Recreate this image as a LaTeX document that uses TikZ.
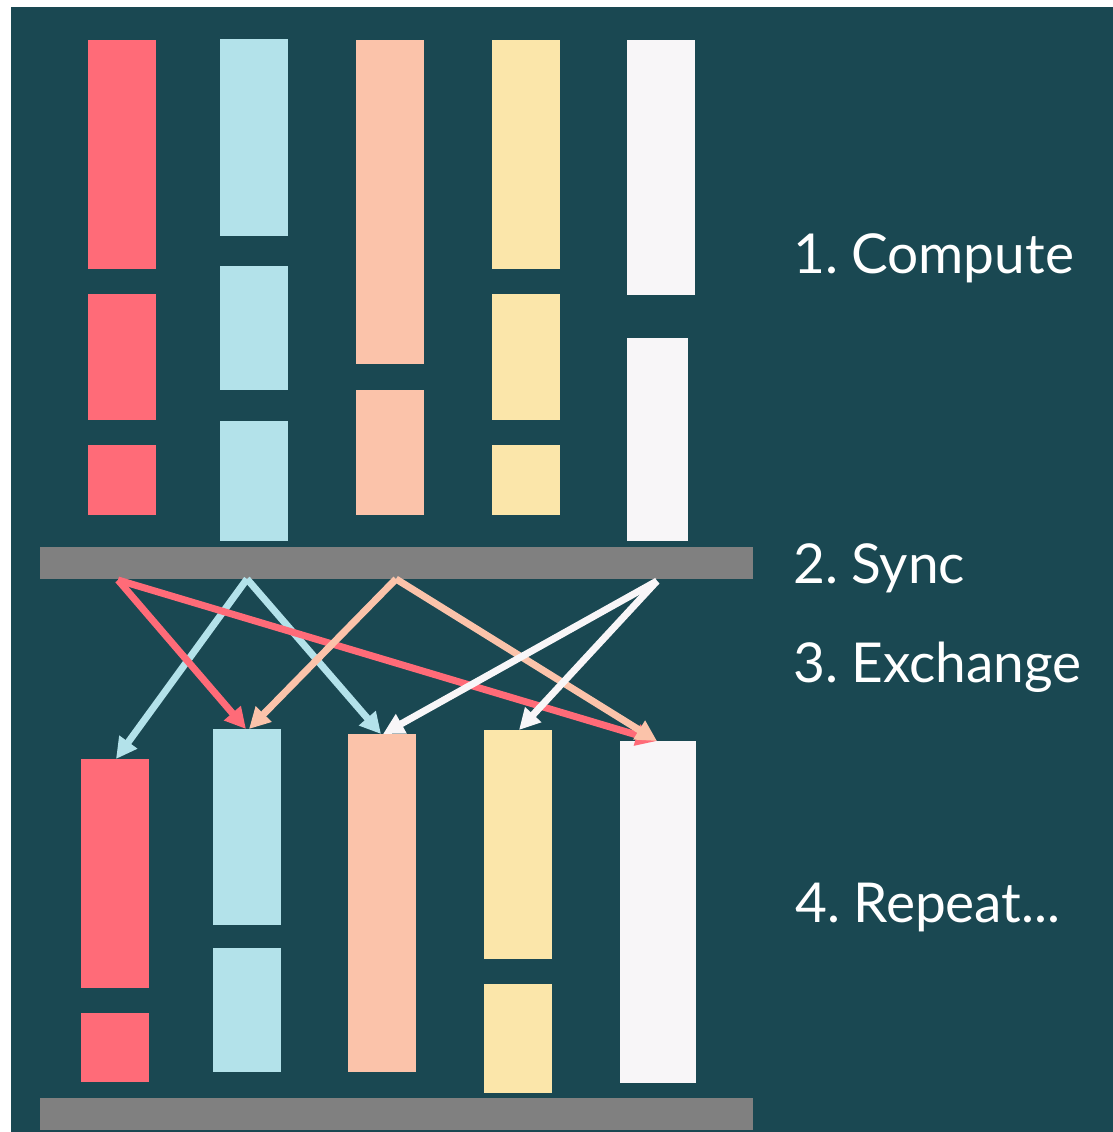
\documentclass[tikz,border=0pt]{standalone}
\usepackage{fontspec}
\setmainfont{Lato}
\usetikzlibrary{fit,arrows.meta}
\definecolor{teal}{HTML}{1A4852}
\definecolor{cred}{HTML}{FF6B78}
\definecolor{cblue}{HTML}{B3E2EA}
\definecolor{cpeach}{HTML}{FBC3AA}
\definecolor{cyellow}{HTML}{FBE6AA}
\definecolor{cwhite}{HTML}{F8F6F8}
\definecolor{cgray}{HTML}{808080}
\newcommand{\stepno}[1]{#1.\hspace{0.24em}}
\tikzset{
  bar/.style={draw=none, inner sep=0pt, outer sep=0pt, fill=#1},
  xfer/.style={draw=#1, line width=7pt, -{Triangle[length=21pt,width=21pt,fill=#1]}},
  stage/.style={text=white, anchor=base west, inner sep=0pt, font=\fontsize{55}{60}\selectfont}
}
\begin{document}
\begin{tikzpicture}[x=1pt,y=-1pt]
  % canvas
  \useasboundingbox (0,0) rectangle (1113,1132);
  \fill[white] (0,0) rectangle (1113,1132);
  \fill[teal] (11,7) rectangle (1113,1132);

  % compute phase: work blocks per worker
  \node[bar=cred,    fit={(88,40)(156,269)}]   (t1a) {};
  \node[bar=cred,    fit={(88,294)(156,420)}]  (t1b) {};
  \node[bar=cred,    fit={(88,445)(156,515)}]  (t1c) {};
  \node[bar=cblue,   fit={(220,39)(288,236)}]  (t2a) {};
  \node[bar=cblue,   fit={(220,266)(288,390)}] (t2b) {};
  \node[bar=cblue,   fit={(220,421)(288,541)}] (t2c) {};
  \node[bar=cpeach,  fit={(356,40)(424,364)}]  (t3a) {};
  \node[bar=cpeach,  fit={(356,390)(424,515)}] (t3b) {};
  \node[bar=cyellow, fit={(492,40)(560,269)}]  (t4a) {};
  \node[bar=cyellow, fit={(492,294)(560,420)}] (t4b) {};
  \node[bar=cyellow, fit={(492,445)(560,515)}] (t4c) {};
  \node[bar=cwhite,  fit={(627,40)(695,295)}]  (t5a) {};
  \node[bar=cwhite,  fit={(627,338)(688,541)}] (t5b) {};

  % synchronisation barriers
  \node[bar=cgray, fit={(40,547)(753,579)}]   (sync) {};
  \node[bar=cgray, fit={(40,1098)(753,1130)}] (sync2) {};

  % next superstep
  \node[bar=cred,    fit={(81,759)(149,988)}]   (b1a) {};
  \node[bar=cred,    fit={(81,1013)(149,1082)}] (b1b) {};
  \node[bar=cblue,   fit={(213,729)(281,925)}]  (b2a) {};
  \node[bar=cblue,   fit={(213,948)(281,1072)}] (b2b) {};
  \node[bar=cpeach,  fit={(348,734)(416,1072)}] (b3)  {};
  \node[bar=cyellow, fit={(484,730)(552,959)}]  (b4a) {};
  \node[bar=cyellow, fit={(484,984)(552,1093)}] (b4b) {};
  \node[bar=cwhite,  fit={(620,741)(696,1083)}] (b5)  {};

  % message sources on the barrier
  \coordinate (sr) at (118,580);
  \coordinate (sb) at (247,579);
  \coordinate (sp) at (396,579);
  \coordinate (sw) at (657,581);

  % exchange
  \draw[xfer=cblue]  (sb) -- ([xshift=1pt]b1a.north);
  \draw[xfer=cblue]  (sb) -- ([xshift=-1pt]b3.north);
  \draw[xfer=cred]   (sr) -- ([xshift=-1pt]b2a.north);
  \draw[xfer=cred]   (sr) -- ([xshift=-1pt]b5.north);
  \draw[xfer=cpeach] (sp) -- ([xshift=2pt]b2a.north);
  \draw[xfer=cpeach] (sp) -- ([xshift=-1pt]b5.north);
  \draw[xfer=cwhite] (sw) -- ([xshift=1pt]b3.north);
  \draw[xfer=cwhite] (sw) -- ([xshift=1pt]b4a.north);

  % stage labels
  \node[stage] (l1) at (793,273) {\stepno{1}Compute};
  \node[stage] (l2) at (793,583) {\stepno{2}Sync};
  \node[stage] (l3) at (793,682) {\stepno{3}Exchange};
  \node[stage] (l4) at (795,922) {\stepno{4}Repeat...};
\end{tikzpicture}
\end{document}
